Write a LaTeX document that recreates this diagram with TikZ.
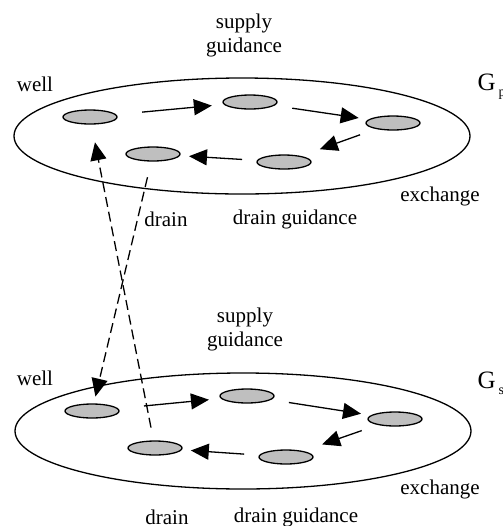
\documentclass[tikz,border=0pt]{standalone}
\usepackage{fontspec}
\setmainfont{Liberation Serif}
\usetikzlibrary{arrows.meta,shapes.geometric}
\tikzset{>={Triangle[width=8pt,length=9pt]}}
\newcommand\lowsub[1]{\hspace{1.5pt}\raisebox{-3pt}{\fontsize{7}{8}\selectfont #1}}

\begin{document}
\begin{tikzpicture}[x=0.5pt,y=-0.5pt,line width=0.65pt,
  font=\fontsize{10.5}{12}\selectfont,
  plane/.style={draw,ellipse,inner sep=0pt,minimum width=228pt,minimum height=58pt},
  spot/.style={draw,ellipse,fill=black!25,inner sep=0pt,minimum width=27pt,minimum height=7pt},
  graphname/.style={anchor=base west,inner sep=0pt,font=\fontsize{12.5}{14}\selectfont},
  jump/.style={->,dash pattern=on 5pt off 2.5pt}]

  \useasboundingbox (0,0) rectangle (503,526);

  % upper plane
  \node[plane] (Gp) at (242,136) {};
  \node[spot] (wellP)   at (90,117)  {};
  \node[spot] (supP)    at (250,102) {};
  \node[spot] (exchP)   at (393,123) {};
  \node[spot] (dguidP)  at (284,162) {};
  \node[spot] (drainP)  at (153,154) {};

  \node (tsupP)   at (244,35)  [align=center] {supply\\guidance};
  \node (twellP)  at (35,84)   {well};
  \node[graphname] (tGp) at (477,90) {G\lowsub{p}};
  \node (texchP)  at (440,196) {exchange};
  \node (tdrainP) at (166,219) {drain};
  \node (tdguidP) at (295,219) {drain guidance};

  \draw[->,shorten <=13pt,shorten >=6pt]  (wellP) -- (supP);
  \draw[->,shorten <=9pt,shorten >=5pt]   (supP) -- (exchP);
  \draw[->,shorten <=8.5pt,shorten >=10pt] (exchP) -- (dguidP);
  \draw[->,shorten <=7.5pt,shorten >=4.5pt] (dguidP) -- (drainP);

  % lower plane
  \node[plane] (Gs) at (243,431) {};
  \node[spot] (wellS)   at (92,411)  {};
  \node[spot] (supS)    at (247,396) {};
  \node[spot] (exchS)   at (395,419) {};
  \node[spot] (dguidS)  at (286,457) {};
  \node[spot] (drainS)  at (155,448) {};

  \node (tsupS)   at (245,329) [align=center] {supply\\guidance};
  \node (twellS)  at (35,378)  {well};
  \node[graphname] (tGs) at (477,388) {G\lowsub{s}};
  \node (texchS)  at (440,489) {exchange};
  \node (tdrainS) at (167,517) {drain};
  \node (tdguidS) at (296,517) {drain guidance};

  \draw[->,shorten <=13pt,shorten >=6pt]  (wellS) -- (supS);
  \draw[->,shorten <=9pt,shorten >=5pt]   (supS) -- (exchS);
  \draw[->,shorten <=8.5pt,shorten >=10pt] (exchS) -- (dguidS);
  \draw[->,shorten <=7.5pt,shorten >=4.5pt] (dguidS) -- (drainS);

  % between planes
  \draw[jump,shorten <=8pt,shorten >=3.5pt] (drainP) -- (wellS);
  \draw[jump,shorten <=6.5pt,shorten >=9pt] (drainS) -- (wellP);

\end{tikzpicture}
\end{document}
